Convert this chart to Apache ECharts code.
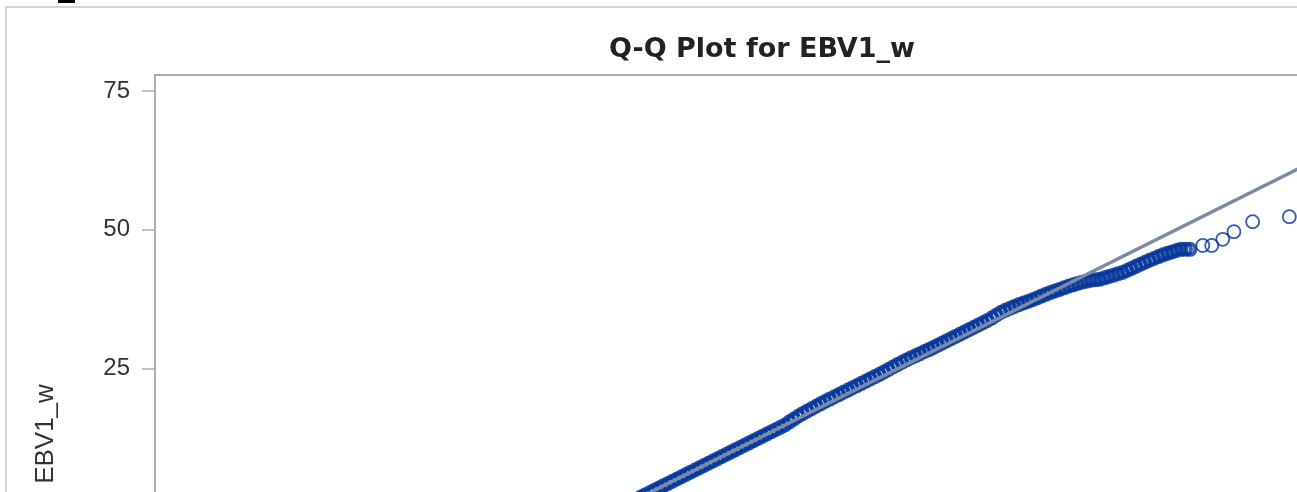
<!DOCTYPE html>
<html>
<head>
<meta charset="utf-8">
<script src="https://cdn.jsdelivr.net/npm/echarts@6/dist/echarts.min.js"></script>
<style>
html,body{margin:0;padding:0;background:#fff;overflow:hidden}
#wrap{width:1297px;height:492px;overflow:hidden;position:relative}
#c{width:1500px;height:900px;position:absolute;left:0;top:0}
</style>
</head>
<body>
<div id="wrap"><div id="c"></div></div>
<script>
// ---- data ----
const chartTitle = 'Q-Q Plot for EBV1_w';
const yAxisName = 'EBV1_w';
const yTickValues = [-50, -25, 0, 25, 50, 75];

// theoretical normal quantiles (x) of the visible points
const theoreticalQuantiles = [
  0.05,0.075,0.1,0.125,0.15,0.175,0.2,0.225,0.25,0.275,
  0.3,0.325,0.35,0.375,0.4,0.425,0.45,0.475,0.5,0.525,
  0.55,0.575,0.6,0.625,0.65,0.675,0.7,0.725,0.75,0.775,
  0.8,0.825,0.85,0.875,0.9,0.925,0.95,0.975,1.0,1.025,
  1.05,1.075,1.1,1.125,1.15,1.175,1.2,1.225,1.25,1.275,
  1.3,1.325,1.35,1.375,1.4,1.425,1.45,1.475,1.5,1.525,
  1.55,1.575,1.6,1.625,1.65,1.675,1.7,1.725,1.75,1.775,
  1.8,1.825,1.85,1.875,1.9,1.925,1.95,1.975,2.0,2.025,
  2.05,2.075,2.1,2.125,2.15,2.175,2.2,2.225,2.25,2.275,
  2.3,2.325,2.35,2.375,2.4,2.425,2.45,2.475,2.5,2.525,
  2.55,2.575,2.6,2.625,2.65,2.675,2.7,2.725,2.75,2.775,
  2.8,2.825,2.85,2.875,2.9,2.925,2.95,2.975,3.0,3.025,
  3.05,3.075,3.1,3.125,3.15,
  3.221,3.271,3.332,3.394,3.498,3.702
];
// sorted EBV1_w values (y)
const ebv1w = [
  1.01,1.42,1.82,2.23,2.63,3.04,3.44,3.85,4.25,4.66,
  5.06,5.47,5.87,6.28,6.68,7.09,7.49,7.90,8.30,8.71,
  9.11,9.52,9.92,10.33,10.73,11.14,11.54,11.95,12.35,12.76,
  13.16,13.57,13.97,14.38,14.78,15.36,15.88,16.41,16.88,17.33,
  17.77,18.22,18.65,19.06,19.46,19.87,20.27,20.68,21.08,21.49,
  21.89,22.30,22.70,23.11,23.51,23.92,24.36,24.81,25.24,25.68,
  26.10,26.52,26.90,27.28,27.65,28.03,28.38,28.78,29.18,29.59,
  29.99,30.40,30.80,31.21,31.61,32.02,32.42,32.83,33.23,33.64,
  34.10,34.62,35.11,35.48,35.84,36.17,36.49,36.79,37.06,37.37,
  37.69,38.02,38.34,38.66,38.94,39.23,39.51,39.79,40.05,40.29,
  40.52,40.72,40.90,40.98,41.06,41.31,41.55,41.80,42.05,42.29,
  42.64,43.02,43.39,43.76,44.13,44.48,44.80,45.14,45.46,45.73,
  45.99,46.25,46.45,46.45,46.45,
  47.15,47.15,48.26,49.63,51.44,52.34
];
// the first denseCount points overlap into a solid band in the original
const denseCount = 125;

// normal reference line end points (x, y)
const refLineX = [-2.6, 4.5];
const refLineY = [-41.92, 73.10];

// ---- chart ----
const chart = echarts.init(document.getElementById('c'), null, {renderer: 'canvas'});
const axisGray = '#a9aeb2';
const markerBlue = '#003399';
const points = theoreticalQuantiles.map((z, i) => [z, ebv1w[i]]);

chart.setOption({
  animation: false,
  backgroundColor: '#ffffff',
  title: {
    text: chartTitle,
    left: 757,
    textAlign: 'center',
    top: 31,
    textStyle: {fontFamily: 'DejaVu Sans', fontWeight: 'bold', fontSize: 27, color: '#222222'}
  },
  graphic: [
    {type: 'rect', shape: {x: 6, y: 7, width: 2000, height: 2000},
     style: {fill: 'none', stroke: '#d3d3d3', lineWidth: 2}, silent: true, z: -10},
    {type: 'rect', shape: {x: 58, y: 0, width: 17, height: 3},
     style: {fill: '#000000'}, silent: true}
  ],
  grid: {
    left: 155, top: 75, width: 1278, height: 718,
    outerBoundsMode: 'none',
    containLabel: false,
    show: true, borderColor: axisGray, borderWidth: 2, backgroundColor: 'transparent'
  },
  xAxis: {
    type: 'value', min: refLineX[0], max: refLineX[1],
    splitLine: {show: false},
    axisLine: {onZero: false, lineStyle: {color: axisGray, width: 2}},
    axisTick: {lineStyle: {color: axisGray}},
    axisLabel: {color: '#333', fontFamily: 'Liberation Sans', fontSize: 24}
  },
  yAxis: {
    type: 'value', min: -51.55, max: 77.88,
    name: yAxisName,
    nameLocation: 'middle',
    nameGap: 96,
    nameTextStyle: {fontFamily: 'Liberation Sans', fontSize: 26, color: '#333333'},
    splitLine: {show: false},
    axisLine: {show: true, onZero: false, lineStyle: {color: axisGray, width: 2}},
    axisTick: {show: true, length: 13, customValues: yTickValues,
               lineStyle: {color: axisGray, width: 1.5}},
    axisLabel: {customValues: yTickValues, margin: 25,
                fontFamily: 'Liberation Sans', fontSize: 24, color: '#333333'}
  },
  series: [
    {
      name: 'EBV1_w',
      type: 'scatter',
      data: points.slice(0, denseCount),
      symbol: 'circle',
      symbolSize: 11,
      itemStyle: {color: 'rgba(0,0,0,0)', borderColor: markerBlue, borderWidth: 4},
      emphasis: {disabled: true},
      z: 2
    },
    {
      name: 'EBV1_w',
      type: 'scatter',
      data: points.slice(denseCount),
      symbol: 'circle',
      symbolSize: 13,
      itemStyle: {color: 'rgba(0,0,0,0)', borderColor: markerBlue, borderWidth: 1.8},
      emphasis: {disabled: true},
      z: 2
    },
    {
      type: 'line',
      data: refLineX.map((x, i) => [x, refLineY[i]]),
      showSymbol: false,
      symbol: 'none',
      lineStyle: {color: '#7b8ba7', width: 3.5},
      emphasis: {disabled: true},
      z: 3
    }
  ]
});
</script>
</body>
</html>
